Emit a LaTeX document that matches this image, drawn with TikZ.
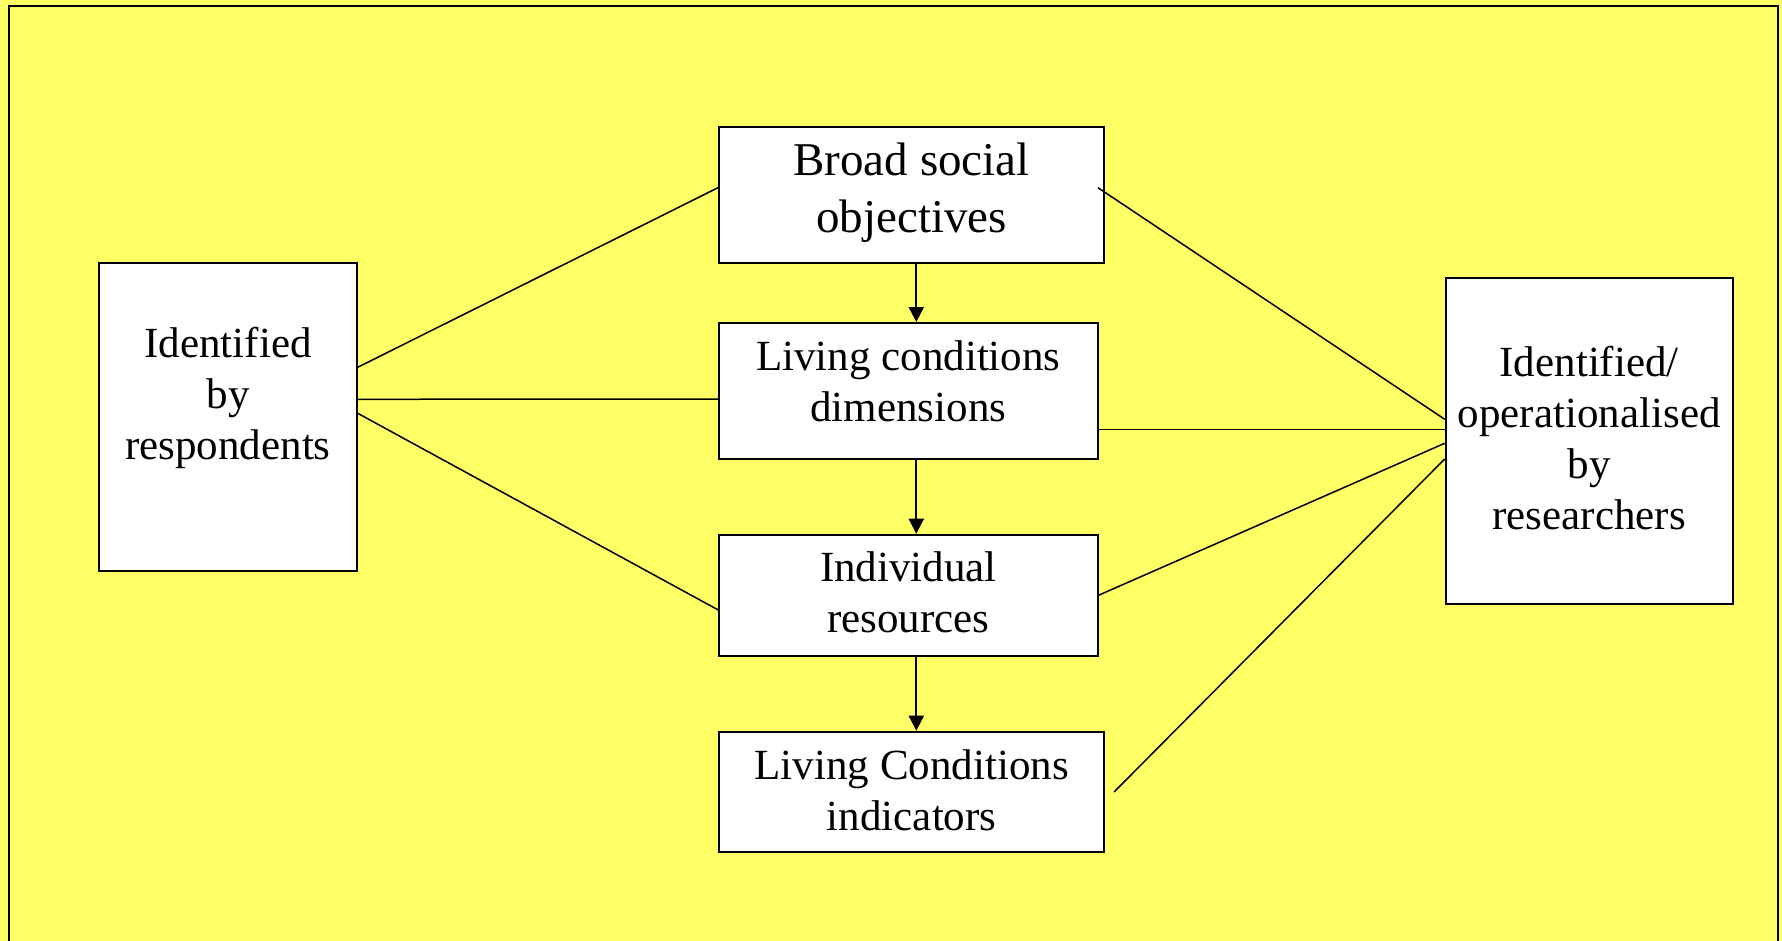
\documentclass[tikz,border=0pt]{standalone}
\usepackage{fontspec}
\setmainfont{Liberation Serif}
\usetikzlibrary{arrows.meta}

\definecolor{bgyellow}{HTML}{FFFF66}

\tikzset{
  box/.style={draw, fill=white, line width=2pt, inner sep=0pt},
  txt/.style={align=center, font=\fontsize{43}{51}\selectfont},
  bigtxt/.style={align=center, font=\fontsize{47}{57.7}\selectfont},
  link/.style={line width=1.5pt},
  flow/.style={line width=2pt, -{Triangle[length=15pt,width=15pt]}}
}

\begin{document}
\begin{tikzpicture}[x=1pt, y=-1pt]
% Background and frame
\useasboundingbox (0,0) rectangle (1782,941);
\fill[bgyellow] (0,0) rectangle (1782,941);
\draw[line width=2.5pt] (9.2,941) -- (9.2,5.8) -- (1778,5.8) -- (1778,941);

% Boxes
\node[box, minimum width=385pt, minimum height=136pt] (broad) at (911.5,194.7) {};
\node[box, minimum width=378.7pt, minimum height=136pt] (lcd) at (908.3,391) {};
\node[box, minimum width=378.4pt, minimum height=121pt] (ires) at (908.5,595.2) {};
\node[box, minimum width=384.7pt, minimum height=120.6pt] (lci) at (911.7,792) {};
\node[box, minimum width=257.4pt, minimum height=308pt] (resp) at (228,416.7) {};
\node[box, minimum width=287pt, minimum height=325.7pt] (rsrch) at (1589.2,441.2) {};

% Texts
\node[bigtxt] (broad-t) at ([yshift=2pt]broad.center) {Broad social\\objectives};
\node[txt] (lcd-t) at ([yshift=10pt]lcd.center) {Living conditions\\dimensions};
\node[txt] (ires-t) at ([yshift=3pt]ires.center) {Individual\\resources};
\node[txt] (lci-t) at ([yshift=2pt]lci.center) {Living Conditions\\indicators};
\node[txt] (resp-t) at ([yshift=19pt]resp.center) {Identified\\by\\respondents};
\node[txt] (rsrch-t) at ([yshift=3pt]rsrch.center) {Identified/\\operationalised\\by\\researchers};

% Vertical arrows
\coordinate (axis) at (916.3,0);
\draw[flow] (broad.south -| axis) -- (lcd.north -| axis);
\draw[flow] (lcd.south -| axis) -- (ires.north -| axis);
\draw[flow] (ires.south -| axis) -- (lci.north -| axis);

% Links to respondents
\draw[link] ([yshift=49.4pt]resp.east) -- ([yshift=7pt]broad.west);
\draw[link] ([yshift=17.4pt]resp.east) -- ([yshift=-8pt]lcd.west);
\draw[link] ([yshift=3.4pt]resp.east) -- ([yshift=-14.8pt]ires.west);

% Links to researchers
\draw[link] ([xshift=-7pt,yshift=7pt]broad.east) -- ([yshift=21.9pt]rsrch.west);
\draw[link] ([yshift=-38.5pt]lcd.east) -- ([yshift=11.7pt]rsrch.west);
\draw[link] (ires.east) -- ([yshift=-2.1pt]rsrch.west);
\draw[link] ([xshift=9pt]lci.east) -- ([yshift=-17.8pt]rsrch.west);
\end{tikzpicture}
\end{document}
